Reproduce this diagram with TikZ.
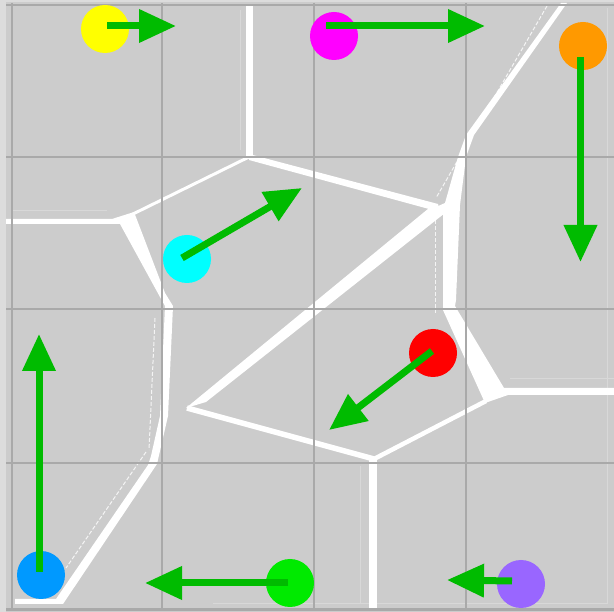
\documentclass[tikz,border=0pt]{standalone}
\usetikzlibrary{arrows.meta}

\definecolor{outergray}{HTML}{DCDCDC}
\definecolor{cellgray}{HTML}{CCCCCC}
\definecolor{gridgray}{HTML}{A9A9A9}
\definecolor{faintgray}{HTML}{D8D8D8}
\definecolor{arrowgreen}{RGB}{0,187,0}
\definecolor{siteyellow}{RGB}{255,255,0}
\definecolor{sitemagenta}{RGB}{255,0,255}
\definecolor{siteorange}{RGB}{255,153,0}
\definecolor{sitecyan}{RGB}{0,255,255}
\definecolor{sitered}{RGB}{255,0,0}
\definecolor{siteblue}{RGB}{0,153,255}
\definecolor{sitegreen}{RGB}{0,234,0}
\definecolor{sitepurple}{RGB}{153,102,255}

\begin{document}
\begin{tikzpicture}[x=1pt,y=-1pt,
  site/.style={circle,minimum size=48pt,inner sep=0pt,fill=#1},
  velocity/.style={draw=arrowgreen,fill=arrowgreen,line width=7pt,
    -{Triangle[length=37pt,width=32pt]}},
  gridline/.style={draw=gridgray,line width=2.5pt},
  cellwall/.style={fill=white},
  wallline/.style={draw=white},
  ghostline/.style={draw=white,line width=1pt,dash pattern=on 4pt off 2pt,opacity=0.8},
  faintline/.style={draw=faintgray,line width=1pt}]

\useasboundingbox (0,0) rectangle (614,612);

% canvas and cell area
\fill[outergray] (0,0) rectangle (614,612);
\fill[cellgray] (6,2) rectangle (614,612);

% faint traces of earlier wall positions
\draw[faintline] (607,8) -- (607,604);
\draw[faintline] (510,379) -- (614,379);
\draw[faintline] (360,466) -- (360,603);
\draw[faintline] (213,604) -- (607,604);
\draw[faintline] (13,211) -- (107,211);
\draw[faintline] (240,10) -- (240,150);
\draw[ghostline] (547,6) -- (436,198);
\draw[ghostline] (435,220) -- (435,313);
\draw[ghostline] (155,318) -- (149,450);
\draw[ghostline] (146,452) -- (66,568);

% cell walls
% left chain: horizontal wall, wedge, and the long descent to the bottom
\fill[cellwall] (6,219) -- (112,219) -- (134,212) -- (165,293) -- (173,306)
  -- (168,416) -- (157,464) -- (63,604) -- (15,604) -- (15,599) -- (56,599)
  -- (148,465) -- (151,456) -- (160,416) -- (165,306) -- (160,297)
  -- (120,224) -- (6,224) -- cycle;
% top vertical wall
\fill[cellwall] (246,5) rectangle (253,157);
% thin wall to the wedge
\draw[wallline,line width=3pt] (249,157) -- (133,214);
% wall from the top junction to the right junction
\fill[cellwall] (249,154) -- (438,204) -- (440,212) -- (249,160) -- cycle;
% thick diagonal of the central cell
\fill[cellwall] (434,204) -- (445,213) -- (206,402) -- (186,408) -- cycle;
% lower side of the central cell
\draw[wallline,line width=5.5pt] (187,408) -- (374,459);
% vertical wall down to the bottom
\fill[cellwall] (369,457) rectangle (377,610);
% wall up to the right junction
\draw[wallline,line width=4.5pt] (374,459) -- (486,401);
% right chain: diagonal from the top, vertical wedge, wedge and horizontal wall
\fill[cellwall] (561,3) -- (567,3) -- (474,135) -- (466,157) -- (460,205)
  -- (456,300) -- (455,306) -- (504,388) -- (614,388) -- (614,395)
  -- (508,395) -- (485,403) -- (443,310) -- (443,215) -- (436,207)
  -- (445,203) -- (458,157) -- (466,135) -- cycle;

% grid
\foreach \gx in {12,162,314,466} \draw[gridline] (\gx,3) -- (\gx,611);
\foreach \gy in {5,157,309,463,609.5} \draw[gridline] (6,\gy) -- (614,\gy);

% sites
\node[site=siteyellow]  (yellow)  at (105,29)  {};
\node[site=sitemagenta] (magenta) at (334,36)  {};
\node[site=siteorange]  (orange)  at (583,46)  {};
\node[site=sitecyan]    (cyan)    at (187,259) {};
\node[site=sitered]     (red)     at (433,353) {};
\node[site=siteblue]    (blue)    at (41,575)  {};
\node[site=sitegreen]   (green)   at (290,583) {};
\node[site=sitepurple]  (purple)  at (521,584) {};

% velocity vectors
\coordinate (yellowtail)  at (107,26);  \coordinate (yellowtip)  at (176,26);
\coordinate (magentatail) at (326,26);  \coordinate (magentatip) at (485,26);
\coordinate (orangetail)  at (580.5,57);\coordinate (orangetip)  at (580.5,262);
\coordinate (cyantail)    at (182,258); \coordinate (cyantip)    at (302,188);
\coordinate (redtail)     at (432,351); \coordinate (redtip)     at (329,430);
\coordinate (bluetail)    at (39,572);  \coordinate (bluetip)    at (39,334);
\coordinate (greentail)   at (288,583); \coordinate (greentip)   at (145,583);
\coordinate (purpletail)  at (512,581); \coordinate (purpletip)  at (447,580);

\draw[velocity] (yellowtail)  -- (yellowtip);
\draw[velocity] (magentatail) -- (magentatip);
\draw[velocity] (orangetail)  -- (orangetip);
\draw[velocity] (cyantail)    -- (cyantip);
\draw[velocity] (redtail)     -- (redtip);
\draw[velocity] (bluetail)    -- (bluetip);
\draw[velocity] (greentail)   -- (greentip);
\draw[velocity] (purpletail)  -- (purpletip);

\end{tikzpicture}
\end{document}
